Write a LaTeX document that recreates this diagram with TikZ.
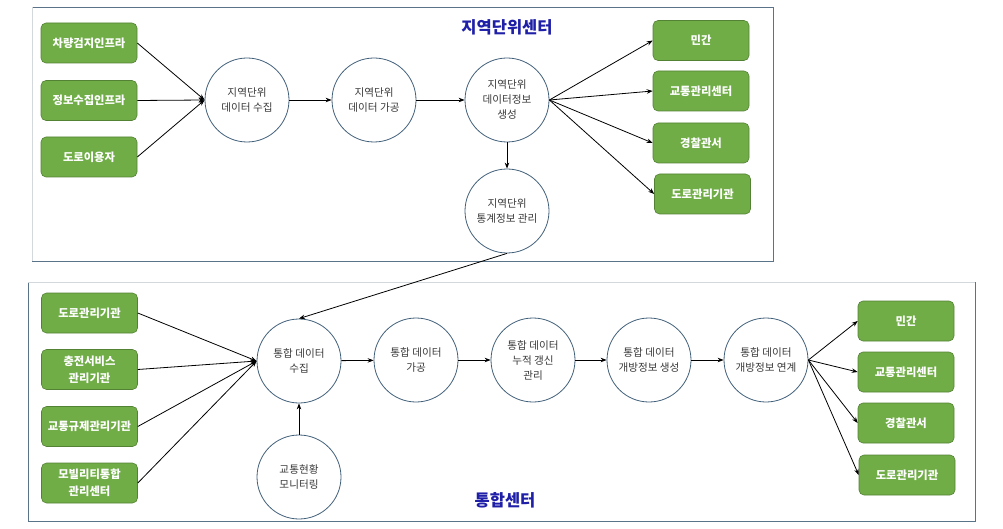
\documentclass[tikz,border=0pt]{standalone}
\usepackage{fontspec}
\setmainfont{Noto Sans CJK KR}
\usetikzlibrary{arrows.meta}
\definecolor{gbox}{HTML}{70AD47}
\definecolor{gedge}{HTML}{548235}
\definecolor{cedge}{HTML}{41607A}
\definecolor{frameD}{HTML}{5A7389}
\definecolor{frameL}{HTML}{D3D8DD}
\definecolor{ttl}{HTML}{1F1FA8}
\definecolor{ctext}{HTML}{3A3A3A}
\tikzset{
  gb/.style={draw=gedge, fill=gbox, rounded corners=5pt, line width=0.6pt,
    minimum width=96pt, minimum height=40pt, inner sep=1pt,
    text=white, font=\bfseries\fontsize{11.3}{17}\selectfont, align=center},
  proc/.style={circle, draw=cedge, fill=white, line width=0.8pt,
    minimum size=84pt, inner sep=0pt, text=ctext,
    font=\fontsize{10.6}{15}\selectfont, align=center},
  arr/.style={-{Stealth[length=6pt,width=4.5pt]}, line width=0.8pt, black},
  title/.style={text=ttl, font=\bfseries\fontsize{16.5}{18}\selectfont}
}
\begin{document}
\begin{tikzpicture}[x=1pt,y=-1pt]
\useasboundingbox (0,0) rectangle (1003,529);
% frames
\draw[frameD, line width=0.8pt] (32,7) -- (773,7) -- (773,261) -- (32,261);
\draw[frameL, line width=0.8pt] (32,7) -- (32,261);
\draw[frameD, line width=0.8pt] (28,282) -- (28,521) -- (975,521) -- (975,282);
\draw[frameL, line width=1pt] (28,282) -- (975,282);
\node[title] (t1) at (507,27) {지역단위센터};
\node[title] (t2) at (505,500) {통합센터};
% top section
\node[gb] (a1) at (89,43) {차량검지인프라};
\node[gb] (a2) at (89,100.5) {정보수집인프라};
\node[gb] (a3) at (89,157) {도로이용자};
\node[proc] (c1) at (247,100) {지역단위\\데이터 수집};
\node[proc] (c2) at (374,100) {지역단위\\데이터 가공};
\node[proc] (c3) at (507,100) {지역단위\\데이터정보\\생성};
\node[proc] (c4) at (507,211) {지역단위\\통계정보 관리};
\node[gb] (r1) at (701,40.5) {민간};
\node[gb] (r2) at (701,91) {교통관리센터};
\node[gb] (r3) at (701,143) {경찰관서};
\node[gb] (r4) at (702.5,194) {도로관리기관};
\foreach \s in {a1,a2,a3} \draw[arr] (\s.east) -- (c1.west);
\draw[arr] (c1) -- (c2);
\draw[arr] (c2) -- (c3);
\draw[arr] (c3) -- (c4);
\foreach \t in {r1,r2,r3,r4} \draw[arr] (c3.east) -- (\t.west);
% bottom section
\node[gb] (d1) at (89.5,313) {도로관리기관};
\node[gb] (d2) at (89.5,369.5) {충전서비스\\관리기관};
\node[gb] (d3) at (89.5,426.5) {교통규제관리기관};
\node[gb] (d4) at (89.5,483) {모빌리티통합\\관리센터};
\node[proc] (b1) at (299,361) {통합 데이터\\수집};
\node[proc] (b2) at (416,360) {통합 데이터\\가공};
\node[proc] (b3) at (533,360) {통합 데이터\\누적 갱신\\관리};
\node[proc] (b4) at (649,360) {통합 데이터\\개방정보 생성};
\node[proc] (b5) at (766,360) {통합 데이터\\개방정보 연계};
\node[proc] (b6) at (299,477) {교통현황\\모니터링};
\node[gb] (e1) at (906,321) {민간};
\node[gb] (e2) at (906,372) {교통관리센터};
\node[gb] (e3) at (906,423) {경찰관서};
\node[gb] (e4) at (907,475) {도로관리기관};
\draw[arr] (c4.south) -- (b1.north);
\foreach \s in {d1,d2,d3,d4} \draw[arr] (\s.east) -- (b1.west);
\draw[arr] (b6) -- (b1);
\draw[arr] (b1) -- (b2);
\draw[arr] (b2) -- (b3);
\draw[arr] (b3) -- (b4);
\draw[arr] (b4) -- (b5);
\foreach \t in {e1,e2,e3,e4} \draw[arr] (b5.east) -- (\t.west);
\end{tikzpicture}
\end{document}
